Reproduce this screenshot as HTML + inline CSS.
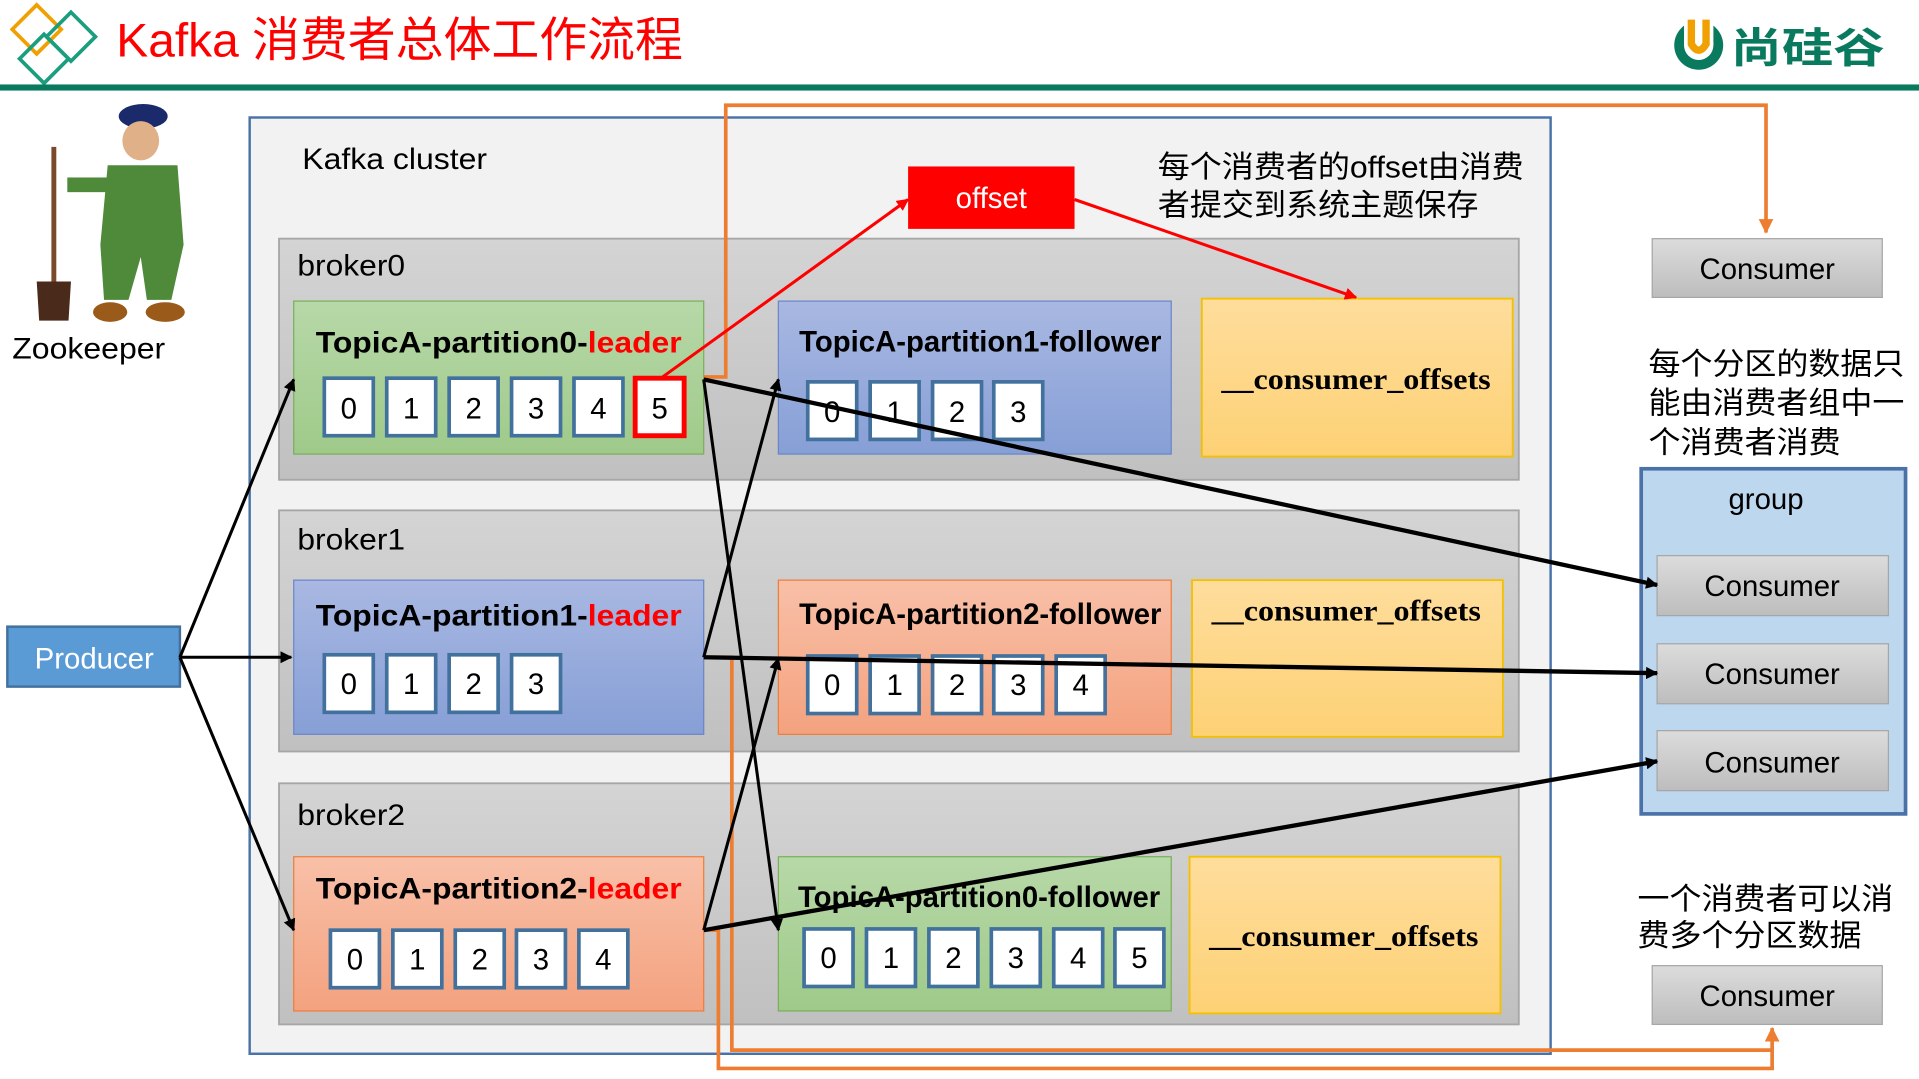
<!DOCTYPE html>
<html><head><meta charset="utf-8"><style>
html,body{margin:0;padding:0;background:#fff;overflow:hidden}
svg{display:block}
text{font-family:"Liberation Sans","Noto Sans CJK SC",sans-serif}
.b{font-weight:bold;font-size:24px}
.n{font-size:24px;text-anchor:middle}
.co{font-family:"Liberation Serif",serif;font-weight:bold;font-size:24px;text-anchor:middle}
</style></head><body>
<svg width="1919" height="1079" viewBox="0 0 1568 881.6" preserveAspectRatio="none" xmlns="http://www.w3.org/2000/svg">
<defs>
<linearGradient id="gr" x1="0" y1="0" x2="0" y2="1"><stop offset="0" stop-color="#d4d4d4"/><stop offset="1" stop-color="#c0c0c0"/></linearGradient>
<linearGradient id="gg" x1="0" y1="0" x2="0" y2="1"><stop offset="0" stop-color="#b7d8a8"/><stop offset="1" stop-color="#9fca8a"/></linearGradient>
<linearGradient id="gb" x1="0" y1="0" x2="0" y2="1"><stop offset="0" stop-color="#a9b8e2"/><stop offset="1" stop-color="#869fd6"/></linearGradient>
<linearGradient id="gs" x1="0" y1="0" x2="0" y2="1"><stop offset="0" stop-color="#f8c0a8"/><stop offset="1" stop-color="#f4a27f"/></linearGradient>
<linearGradient id="gy" x1="0" y1="0" x2="0" y2="1"><stop offset="0" stop-color="#fedd9c"/><stop offset="1" stop-color="#fdd175"/></linearGradient>
<linearGradient id="gc" x1="0" y1="0" x2="0" y2="1"><stop offset="0" stop-color="#dcdcdc"/><stop offset="1" stop-color="#bdbdbd"/></linearGradient>
<marker id="ak" markerWidth="10" markerHeight="10" refX="9" refY="5" orient="auto" markerUnits="userSpaceOnUse"><path d="M0,0 L10,5 L0,10 z" fill="#000"/></marker>
<marker id="ar" markerWidth="10" markerHeight="10" refX="9" refY="5" orient="auto" markerUnits="userSpaceOnUse"><path d="M0,0 L10,5 L0,10 z" fill="red"/></marker>
<marker id="ao" markerWidth="12" markerHeight="12" refX="11" refY="6" orient="auto" markerUnits="userSpaceOnUse"><path d="M0,0 L12,6 L0,12 z" fill="#ed7d31"/></marker>
</defs>
<g fill="none" stroke-width="3">
<path d="M30,4 L50,24 L30,44 L10,24 z" stroke="#f0a000"/>
<path d="M58,10 L78,30 L58,50 L38,30 z" stroke="#1a9e7e"/>
<path d="M36,28 L56,48 L36,68 L16,48 z" stroke="#1a9e7e"/>
</g>
<text x="95" y="46" font-size="39" fill="#f00" textLength="463" lengthAdjust="spacingAndGlyphs">Kafka 消费者总体工作流程</text>
<rect x="0" y="69" width="1568" height="5" fill="#0a7a5f"/>
<circle cx="1388" cy="37" r="20" fill="#0a7a5f"/>
<circle cx="1388" cy="37" r="12" fill="#fff"/>
<rect x="1376" y="14" width="24" height="23" fill="#fff"/>
<path d="M1382,16 L1382,36 Q1388,46 1394,36 L1394,16" stroke="#f0a000" stroke-width="6" fill="none"/>
<text x="1414" y="51" font-size="34" fill="#0a7a5f" font-weight="bold" textLength="126" lengthAdjust="spacingAndGlyphs">尚硅谷</text>
<g>
<rect x="42" y="120" width="4" height="140" fill="#7a4a2a"/>
<path d="M30,230 L58,230 L56,262 L32,262 z" fill="#4a2a1a"/>
<ellipse cx="117" cy="95" rx="20" ry="10" fill="#1a2a6a"/>
<ellipse cx="115" cy="115" rx="15" ry="16" fill="#e0b088"/>
<path d="M88,135 L145,135 L150,200 L140,245 L120,245 L115,210 L105,245 L85,245 L82,200 z" fill="#4e8a3a"/>
<rect x="55" y="145" width="35" height="12" fill="#4e8a3a"/>
<ellipse cx="90" cy="255" rx="14" ry="8" fill="#9a5a1a"/>
<ellipse cx="135" cy="255" rx="16" ry="8" fill="#9a5a1a"/>
</g>
<text x="10" y="293" font-size="24" textLength="125" lengthAdjust="spacingAndGlyphs">Zookeeper</text>
<rect x="204" y="96" width="1063" height="765" fill="#f2f2f2" stroke="#4a72a8" stroke-width="2"/>
<text x="247" y="138" font-size="24" textLength="151" lengthAdjust="spacingAndGlyphs">Kafka cluster</text>
<rect x="228" y="195" width="1013" height="197" fill="url(#gr)" stroke="#a6a6a6" stroke-width="1.5"/>
<rect x="228" y="417" width="1013" height="197" fill="url(#gr)" stroke="#a6a6a6" stroke-width="1.5"/>
<rect x="228" y="640" width="1013" height="197" fill="url(#gr)" stroke="#a6a6a6" stroke-width="1.5"/>
<text x="243" y="225" font-size="24" textLength="88" lengthAdjust="spacingAndGlyphs">broker0</text>
<text x="243" y="449" font-size="24" textLength="88" lengthAdjust="spacingAndGlyphs">broker1</text>
<text x="243" y="674" font-size="24" textLength="88" lengthAdjust="spacingAndGlyphs">broker2</text>
<rect x="240" y="246" width="335" height="125" fill="url(#gg)" stroke="#7aaf5a"/>
<text x="258" y="288" class="b" textLength="299" lengthAdjust="spacingAndGlyphs">TopicA-partition0-<tspan fill="#f00">leader</tspan></text>
<rect x="636" y="246" width="321" height="125" fill="url(#gb)" stroke="#6a86c8"/>
<text x="653" y="287" class="b" font-size="22" textLength="296" lengthAdjust="spacingAndGlyphs">TopicA-partition1-follower</text>
<rect x="982" y="244" width="254" height="129" fill="url(#gy)" stroke="#f5c000" stroke-width="1.5"/>
<text x="1108" y="318" class="co" textLength="220" lengthAdjust="spacingAndGlyphs">__consumer_offsets</text>

<rect x="240" y="474" width="335" height="126" fill="url(#gb)" stroke="#6a86c8"/>
<text x="258" y="511" class="b" textLength="299" lengthAdjust="spacingAndGlyphs">TopicA-partition1-<tspan fill="#f00">leader</tspan></text>
<rect x="636" y="474" width="321" height="126" fill="url(#gs)" stroke="#ee7d3b"/>
<text x="653" y="510" class="b" font-size="22" textLength="296" lengthAdjust="spacingAndGlyphs">TopicA-partition2-follower</text>
<rect x="974" y="474" width="254" height="128" fill="url(#gy)" stroke="#f5c000" stroke-width="1.5"/>
<text x="1100" y="507" class="co" textLength="220" lengthAdjust="spacingAndGlyphs">__consumer_offsets</text>

<rect x="240" y="700" width="335" height="126" fill="url(#gs)" stroke="#ee7d3b"/>
<text x="258" y="734" class="b" textLength="299" lengthAdjust="spacingAndGlyphs">TopicA-partition2-<tspan fill="#f00">leader</tspan></text>
<rect x="636" y="700" width="321" height="126" fill="url(#gg)" stroke="#7aaf5a"/>
<text x="652" y="741" class="b" font-size="22" textLength="296" lengthAdjust="spacingAndGlyphs">TopicA-partition0-follower</text>
<rect x="972" y="700" width="254" height="128" fill="url(#gy)" stroke="#f5c000" stroke-width="1.5"/>
<text x="1098" y="773" class="co" textLength="220" lengthAdjust="spacingAndGlyphs">__consumer_offsets</text>
<g fill="#fff" stroke="#41719c" stroke-width="3">
<rect x="265" y="309" width="40" height="47"/><rect x="316" y="309" width="40" height="47"/><rect x="367" y="309" width="40" height="47"/><rect x="418" y="309" width="40" height="47"/><rect x="469" y="309" width="40" height="47"/>
<rect x="519" y="309" width="40" height="47" stroke="#f00" stroke-width="4"/>
<rect x="660" y="312" width="40" height="47"/><rect x="711" y="312" width="40" height="47"/><rect x="762" y="312" width="40" height="47"/><rect x="812" y="312" width="40" height="47"/>
<rect x="265" y="535" width="40" height="47"/><rect x="316" y="535" width="40" height="47"/><rect x="367" y="535" width="40" height="47"/><rect x="418" y="535" width="40" height="47"/>
<rect x="660" y="536" width="40" height="47"/><rect x="711" y="536" width="40" height="47"/><rect x="762" y="536" width="40" height="47"/><rect x="812" y="536" width="40" height="47"/><rect x="863" y="536" width="40" height="47"/>
<rect x="270" y="760" width="40" height="47"/><rect x="321" y="760" width="40" height="47"/><rect x="372" y="760" width="40" height="47"/><rect x="422" y="760" width="40" height="47"/><rect x="473" y="760" width="40" height="47"/>
<rect x="657" y="759" width="40" height="47"/><rect x="708" y="759" width="40" height="47"/><rect x="759" y="759" width="40" height="47"/><rect x="810" y="759" width="40" height="47"/><rect x="861" y="759" width="40" height="47"/><rect x="911" y="759" width="40" height="47"/>
</g>
<g>
<text x="285" y="342" class="n">0</text><text x="336" y="342" class="n">1</text><text x="387" y="342" class="n">2</text><text x="438" y="342" class="n">3</text><text x="489" y="342" class="n">4</text><text x="539" y="342" class="n">5</text>
<text x="680" y="345" class="n">0</text><text x="731" y="345" class="n">1</text><text x="782" y="345" class="n">2</text><text x="832" y="345" class="n">3</text>
<text x="285" y="567" class="n">0</text><text x="336" y="567" class="n">1</text><text x="387" y="567" class="n">2</text><text x="438" y="567" class="n">3</text>
<text x="680" y="568" class="n">0</text><text x="731" y="568" class="n">1</text><text x="782" y="568" class="n">2</text><text x="832" y="568" class="n">3</text><text x="883" y="568" class="n">4</text>
<text x="290" y="792" class="n">0</text><text x="341" y="792" class="n">1</text><text x="392" y="792" class="n">2</text><text x="442" y="792" class="n">3</text><text x="493" y="792" class="n">4</text>
<text x="677" y="791" class="n">0</text><text x="728" y="791" class="n">1</text><text x="779" y="791" class="n">2</text><text x="830" y="791" class="n">3</text><text x="881" y="791" class="n">4</text><text x="931" y="791" class="n">5</text>
</g>
<rect x="742" y="136" width="136" height="51" fill="#f00"/>
<text x="810" y="170" class="n" fill="#fff">offset</text>
<text x="946" y="145" font-size="25" textLength="299" lengthAdjust="spacingAndGlyphs">每个消费者的offset由消费</text>
<text x="946" y="176" font-size="25" textLength="262" lengthAdjust="spacingAndGlyphs">者提交到系统主题保存</text>
<text x="1347" y="306" font-size="25" textLength="209" lengthAdjust="spacingAndGlyphs">每个分区的数据只</text>
<text x="1347" y="338" font-size="25" textLength="209" lengthAdjust="spacingAndGlyphs">能由消费者组中一</text>
<text x="1347" y="370" font-size="25" textLength="157" lengthAdjust="spacingAndGlyphs">个消费者消费</text>
<text x="1338" y="743" font-size="25" textLength="209" lengthAdjust="spacingAndGlyphs">一个消费者可以消</text>
<text x="1338" y="773" font-size="25" textLength="183" lengthAdjust="spacingAndGlyphs">费多个分区数据</text>
<rect x="1350" y="195" width="188" height="48" fill="url(#gc)" stroke="#a6a6a6"/>
<text x="1444" y="228" class="n">Consumer</text>
<rect x="1341" y="383" width="216" height="282" fill="#bdd7ee" stroke="#4a72a8" stroke-width="3"/>
<text x="1443" y="416" class="n">group</text>
<rect x="1354" y="454" width="189" height="49" fill="url(#gc)" stroke="#a6a6a6"/>
<text x="1448" y="487" class="n">Consumer</text>
<rect x="1354" y="526" width="189" height="49" fill="url(#gc)" stroke="#a6a6a6"/>
<text x="1448" y="559" class="n">Consumer</text>
<rect x="1354" y="597" width="189" height="49" fill="url(#gc)" stroke="#a6a6a6"/>
<text x="1448" y="631" class="n">Consumer</text>
<rect x="1350" y="789" width="188" height="48" fill="url(#gc)" stroke="#a6a6a6"/>
<text x="1444" y="822" class="n">Consumer</text>
<rect x="6" y="512" width="141" height="49" fill="#5b9bd5" stroke="#41719c" stroke-width="2"/>
<text x="77" y="546" class="n" fill="#fff">Producer</text>
<g fill="none" stroke="#ed7d31" stroke-width="3">
<path d="M575,308 L593,308 L593,86 L1443,86 L1443,190" marker-end="url(#ao)"/>
<path d="M575,537 L598,537 L598,858 L1448,858"/>
<path d="M575,760 L587,760 L587,873 L1448,873 L1448,840" marker-end="url(#ao)"/>
</g>
<g stroke="#000" stroke-width="2.5" fill="none">
<path d="M147,537 L240,310" marker-end="url(#ak)"/>
<path d="M147,537 L238,537" marker-end="url(#ak)"/>
<path d="M147,537 L240,760" marker-end="url(#ak)"/>
<path d="M575,310 L636,760" marker-end="url(#ak)"/>
<path d="M575,537 L636,310" marker-end="url(#ak)"/>
<path d="M575,760 L636,538" marker-end="url(#ak)"/>
</g>
<g stroke="#000" stroke-width="3.5" fill="none">
<path d="M575,310 L1354,478" marker-end="url(#ak)"/>
<path d="M575,537 L1354,550" marker-end="url(#ak)"/>
<path d="M575,760 L1354,622" marker-end="url(#ak)"/>
</g>
<g stroke="#f00" stroke-width="2.5" fill="none">
<path d="M540,309 L742,163" marker-end="url(#ar)"/>
<path d="M878,163 L1108,243" marker-end="url(#ar)"/>
</g>
</svg>
</body></html>
